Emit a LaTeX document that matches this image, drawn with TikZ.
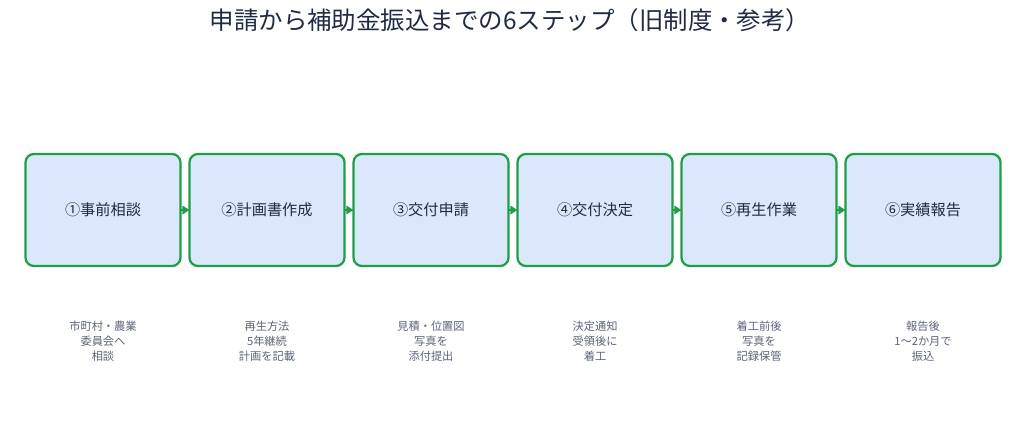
\documentclass[tikz,border=0pt]{standalone}
\usepackage{fontspec}
\setmainfont{Noto Sans CJK JP}
\usetikzlibrary{positioning,arrows.meta}
\definecolor{stepfill}{HTML}{DBE8FC}
\definecolor{stepline}{HTML}{1E9E46}
\definecolor{titletext}{HTML}{1F2A44}
\definecolor{notetext}{HTML}{5A6478}
\tikzset{
  stepbox/.style={draw=stepline, line width=1.6pt, fill=stepfill, rounded corners=6pt, outer sep=0pt,
    minimum width=3.875cm, minimum height=2.8cm, font=\fontsize{10.8}{12}\selectfont, text=titletext},
  note/.style={align=center, font=\fontsize{8}{10.6}\selectfont, text=notetext},
  flow/.style={-{Triangle[length=5pt,width=6pt]}, draw=stepline, line width=1.6pt}
}
\begin{document}
\begin{tikzpicture}[node distance=0.225cm]
  \useasboundingbox (0,0) rectangle (25.675,-10.8);
  \node[font=\fontsize{17.4}{20}\selectfont, text=titletext] (title) at (12.75,-0.5) {申請から補助金振込までの6ステップ（旧制度・参考）};

  \node[stepbox] (s1) at (2.575,-5.25) {①事前相談};
  \node[stepbox, right=of s1] (s2) {②計画書作成};
  \node[stepbox, right=of s2] (s3) {③交付申請};
  \node[stepbox, right=of s3] (s4) {④交付決定};
  \node[stepbox, right=of s4] (s5) {⑤再生作業};
  \node[stepbox, right=of s5] (s6) {⑥実績報告};

  \foreach \a/\b in {s1/s2,s2/s3,s3/s4,s4/s5,s5/s6}
    \draw[flow] (\a.east) -- (\b.west);

  \node[note, below=1.25cm of s1] (n1) {市町村・農業\\委員会へ\\相談};
  \node[note, below=1.25cm of s2] (n2) {再生方法\\5年継続\\計画を記載};
  \node[note, below=1.25cm of s3] (n3) {見積・位置図\\写真を\\添付提出};
  \node[note, below=1.25cm of s4] (n4) {決定通知\\受領後に\\着工};
  \node[note, below=1.25cm of s5] (n5) {着工前後\\写真を\\記録保管};
  \node[note, below=1.25cm of s6] (n6) {報告後\\1〜2か月で\\振込};
\end{tikzpicture}
\end{document}
